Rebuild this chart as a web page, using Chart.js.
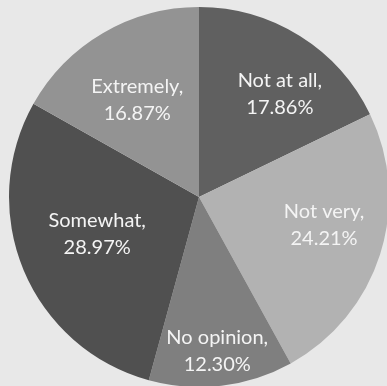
<!DOCTYPE html>
<html>
<head>
<meta charset="utf-8">
<script src="https://cdn.jsdelivr.net/npm/chart.js@4/dist/chart.umd.min.js"></script>
<style>
  html, body { margin: 0; padding: 0; background: #e8e8e8; overflow: hidden; }
  #wrap { position: absolute; left: 0; top: 0; width: 389px; height: 387px; }
</style>
</head>
<body>
<div id="wrap"><canvas id="c"></canvas></div>
<script>
// Survey answers, clockwise from 12 o'clock
const categories = ['Not at all', 'Not very', 'No opinion', 'Somewhat', 'Extremely'];
const shares = [17.86, 24.21, 12.30, 28.97, 16.87];
const sliceColors = ['#606060', '#b2b2b2', '#7f7f7f', '#505050', '#939393'];

// Where each label sits: fraction of the radius and a nudge (degrees) off the slice's mid-angle
const labelRadius = [0.69, 0.675, 0.815, 0.57, 0.605];
const labelNudge = [6, -4.8, 0, 2.7, -2.2];

const sliceLabels = {
  id: 'sliceLabels',
  afterDatasetsDraw(chart) {
    const ctx = chart.ctx;
    const meta = chart.getDatasetMeta(0);
    ctx.save();
    ctx.fillStyle = '#f4f4f4';
    ctx.font = '20px Lato, "Open Sans", sans-serif';
    ctx.textAlign = 'center';
    ctx.textBaseline = 'middle';
    meta.data.forEach((arc, i) => {
      const p = arc.getProps(['x', 'y', 'startAngle', 'endAngle', 'outerRadius'], true);
      const a = (p.startAngle + p.endAngle) / 2 + labelNudge[i] * Math.PI / 180;
      const r = p.outerRadius * labelRadius[i];
      const cx = p.x + Math.cos(a) * r;
      const cy = p.y + Math.sin(a) * r;
      ctx.fillText(categories[i] + ',', cx, cy - 13.5);
      ctx.fillText(shares[i].toFixed(2) + '%', cx, cy + 13.5);
    });
    ctx.restore();
  }
};

new Chart(document.getElementById('c'), {
  type: 'pie',
  data: {
    labels: categories,
    datasets: [{
      data: shares,
      backgroundColor: sliceColors,
      borderWidth: 0
    }]
  },
  options: {
    responsive: true,
    maintainAspectRatio: false,
    animation: false,
    layout: { padding: { left: 9, top: 7, right: 0, bottom: 0 } },
    plugins: {
      legend: { display: false },
      tooltip: { enabled: false }
    }
  },
  plugins: [sliceLabels]
});
</script>
</body>
</html>
